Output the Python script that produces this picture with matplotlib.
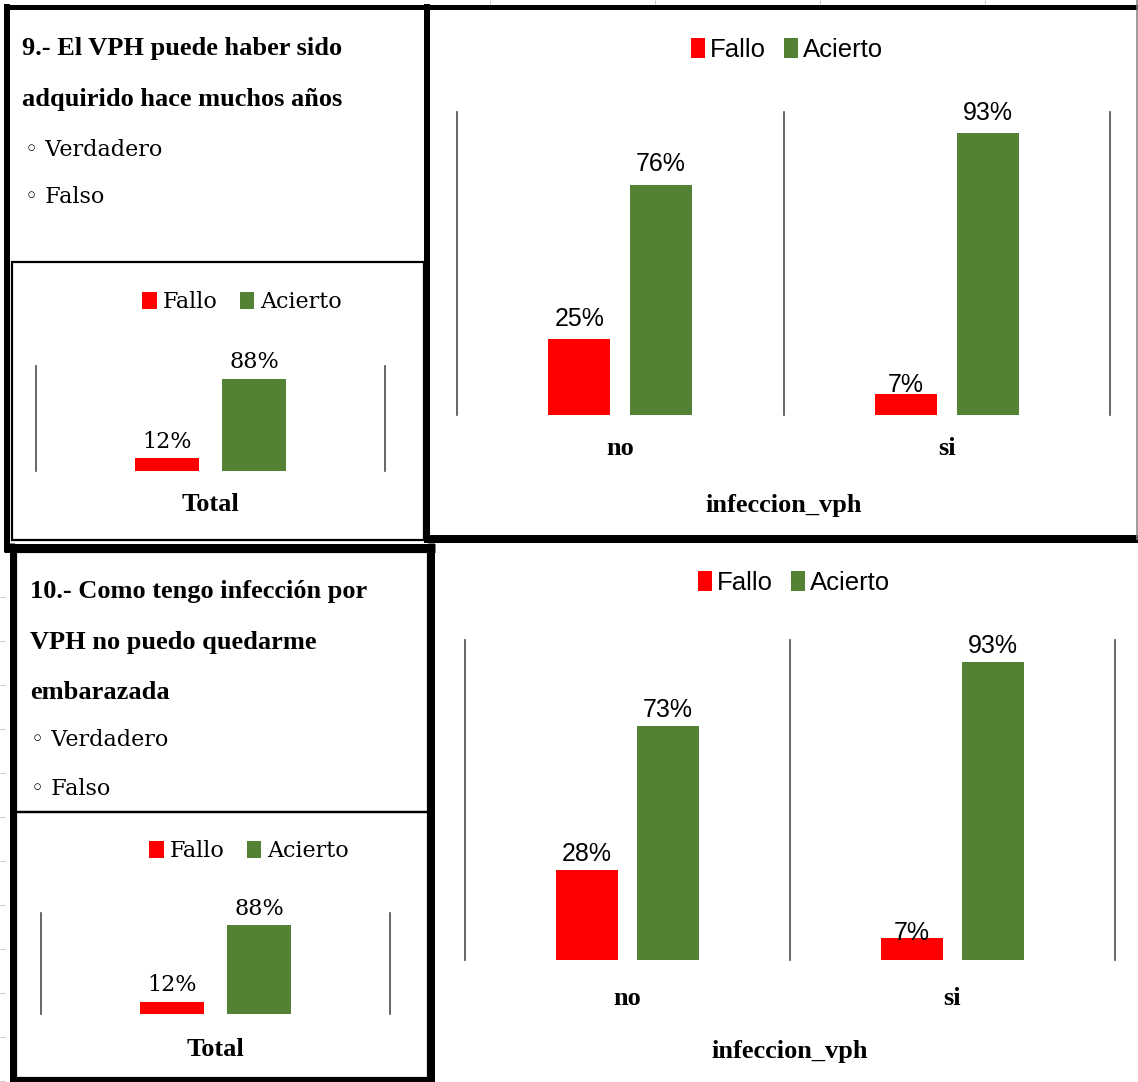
import numpy as np
import matplotlib
matplotlib.use("Agg")
import matplotlib.pyplot as plt

W, H = 1138, 1082

# ---- data -------------------------------------------------------------
series_names = ["Fallo", "Acierto"]
series_colors = ["#FF0000", "#548235"]
vph_categories = ["no", "si"]
total_category = ["Total"]
vph_axis_title = "infeccion_vph"

q9_total_fallo = [12]
q9_total_acierto = [88]
q9_vph_fallo = [25, 7]
q9_vph_acierto = [76, 93]

q10_total_fallo = [12]
q10_total_acierto = [88]
q10_vph_fallo = [28, 7]
q10_vph_acierto = [73, 93]

q9_lines = ["9.- El VPH puede haber sido", "adquirido hace muchos años"]
q10_lines = ["10.- Como tengo infección por", "VPH no puedo quedarme", "embarazada"]
answer_options = ["Verdadero", "Falso"]

# ---- fonts --------------------------------------------------------------
SERIF_BOLD = dict(family=["Liberation Serif", "DejaVu Serif"], weight="bold")
SERIF = dict(family=["DejaVu Serif", "DejaVu Sans"])
SANS = dict(family=["Liberation Sans", "DejaVu Sans"])

fig = plt.figure(figsize=(W / 100, H / 100), dpi=100)
fig.patch.set_facecolor("white")


def to_fig(x0, y0, x1, y1):
    """Pixel box (top-left origin) -> figure fraction rect."""
    return [x0 / W, 1 - y1 / H, (x1 - x0) / W, (y1 - y0) / H]


# background layer in pixel coordinates for frames and question text
bg = fig.add_axes([0, 0, 1, 1])
bg.set_xlim(0, W)
bg.set_ylim(H, 0)
bg.axis("off")


def hline(y, x0, x1, px, color="black"):
    bg.plot([x0, x1], [y, y], color=color, lw=px * 0.72, solid_capstyle="butt")


def vline(x, y0, y1, px, color="black"):
    bg.plot([x, x], [y0, y1], color=color, lw=px * 0.72, solid_capstyle="butt")


# faint spreadsheet grid peeking out at the edges
for gx in [490, 655, 820, 985]:
    vline(gx, 0, 4, 1, "#c8c8c8")
for gy in np.arange(597, 1082, 44):
    hline(gy, 0, 5, 1, "#c8c8c8")

# frames
hline(6.5, 4, W, 5)                 # top edge
vline(7, 4, 552, 6)                 # left edge, upper block
vline(427.5, 4, 543, 6)             # upper divider
hline(539, 427, W, 8)               # middle edge, right
hline(547.5, 4, 435, 9)             # middle edge, left
vline(12.5, 543, H, 5)              # left edge, lower block
vline(431.5, 543, H, 7)             # lower divider
hline(1080, 10, 433, 4)             # bottom edge, left
vline(1137, 0, 540, 1.5, "#808080")  # right edge

# inner boxes around the small charts and question text
for (x0, y0, x1, y1) in [(12, 262, 424, 540), (16, 552, 428, 812), (16, 812, 428, 1078)]:
    bg.add_patch(plt.Rectangle((x0, y0), x1 - x0, y1 - y0, fill=False,
                               ec="black", lw=1.6))


# question text
def question(lines, x, baselines, opt_x, opt_baselines):
    for line, y in zip(lines, baselines):
        bg.text(x, y, line, fontsize=19, va="baseline", ha="left", **SERIF_BOLD)
    for opt, y in zip(answer_options, opt_baselines):
        bg.text(opt_x, y, "◦ " + opt, fontsize=16, va="baseline", ha="left", **SERIF)


question(q9_lines, 22, [55, 106], 25, [156, 203])
question(q10_lines, 30, [598, 649, 699], 31, [746, 795])


# ---- bar panels ------------------------------------------------------------
def panel(box, cats, fallo, acierto, *, width, shift, lab_font, lab_size,
          lab_off, small_off, leg_center, leg_font, leg_size, leg_hl, leg_hh,
          leg_tp, leg_cs, tick_pad, xlabel=None, labelpad=0.0):
    ax = fig.add_axes(to_fig(*box))
    ax.set_facecolor("none")
    x = np.arange(len(cats))
    handles = []
    for vals, off, color, name in zip([fallo, acierto], [-shift, shift],
                                      series_colors, series_names):
        bars = ax.bar(x + off, vals, width, color=color, label=name)
        handles.append(bars)
        for xi, v in zip(x + off, vals):
            ax.annotate(f"{v}%", (xi, v),
                        xytext=(0, lab_off if v >= 10 else small_off),
                        textcoords="offset points", ha="center", va="bottom",
                        fontsize=lab_size, **lab_font)
    ax.set_xlim(-0.5, len(cats) - 0.5)
    ax.set_ylim(0, 100)
    for b in np.arange(len(cats) + 1) - 0.5:
        ax.axvline(b, color="#4d4d4d", lw=1.2, clip_on=False)
    for s in ax.spines.values():
        s.set_visible(False)
    ax.set_yticks([])
    ax.set_xticks(x, cats, fontsize=19, **SERIF_BOLD)
    ax.tick_params(axis="x", length=0, pad=tick_pad)
    if xlabel:
        ax.set_xlabel(xlabel, fontsize=19, labelpad=labelpad, **SERIF_BOLD)
    ax.legend(handles=handles, labels=series_names, loc="center",
              bbox_to_anchor=(leg_center[0] / W, 1 - leg_center[1] / H),
              bbox_transform=fig.transFigure, ncol=2, frameon=False,
              prop=dict(size=leg_size, **leg_font), handlelength=leg_hl,
              handleheight=leg_hh, handletextpad=leg_tp, columnspacing=leg_cs,
              borderpad=0)
    return ax


small = dict(width=0.185, shift=0.125, lab_font=SERIF, lab_size=16,
             lab_off=4, small_off=4, leg_font=SERIF, leg_size=16,
             leg_hl=0.66, leg_hh=0.8, leg_tp=0.25, leg_cs=1.0)
large = dict(width=0.19, shift=0.125, lab_font=SANS, lab_size=18,
             leg_font=SANS, leg_size=18.5, leg_hl=0.52, leg_hh=0.8,
             leg_tp=0.2, leg_cs=0.72)

panel((36, 366, 385, 471), total_category, q9_total_fallo, q9_total_acierto,
      leg_center=(242, 302), tick_pad=15.5, **small)
panel((41, 913, 390, 1014), total_category, q10_total_fallo, q10_total_acierto,
      leg_center=(249, 851), tick_pad=17.5, **small)
panel((457, 112, 1110, 415), vph_categories, q9_vph_fallo, q9_vph_acierto,
      leg_center=(787, 50), tick_pad=16, xlabel=vph_axis_title,
      labelpad=24, lab_off=6, small_off=-2, **large)
panel((465, 640, 1115, 960), vph_categories, q10_vph_fallo, q10_vph_acierto,
      leg_center=(794, 583), tick_pad=19.5, xlabel=vph_axis_title,
      labelpad=21.5, lab_off=3, small_off=-5, **large)

fig.savefig("out.png", dpi=100, facecolor="white")
